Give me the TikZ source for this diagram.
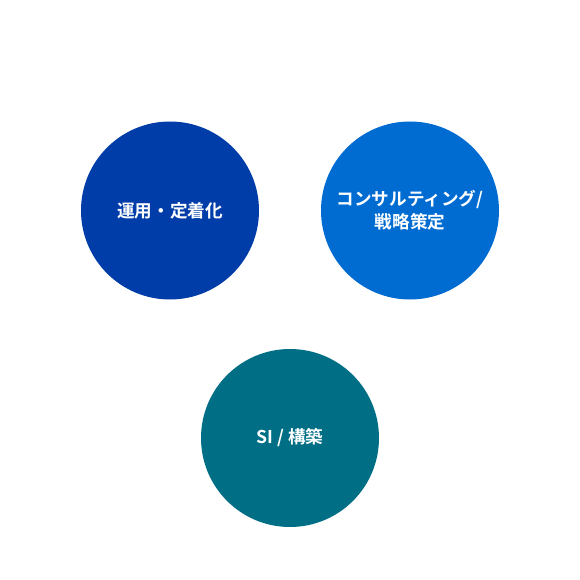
\documentclass[tikz,border=0pt]{standalone}
\usepackage{fontspec}
\newfontfamily\jpfont{Noto Sans CJK JP Bold}
\definecolor{opblue}{HTML}{003DA8}
\definecolor{conblue}{HTML}{006CD2}
\definecolor{siteal}{HTML}{006F86}
\tikzset{
  area/.style={circle, minimum size=178bp, inner sep=0pt, text=white,
    font=\jpfont\fontsize{17.6bp}{23bp}\selectfont, align=center}
}
\begin{document}
\begin{tikzpicture}[x=1bp,y=-1bp]
  \useasboundingbox[fill=white] (0,0) rectangle (580,580);
  \node[area, fill=opblue] (ops) at (170,210.5) {運用・定着化};
  \node[area, fill=conblue] (consult) at (410,210.5) {コンサルティング/\\戦略策定};
  \node[area, fill=siteal] (si) at (290,438) {SI / 構築};
\end{tikzpicture}
\end{document}
